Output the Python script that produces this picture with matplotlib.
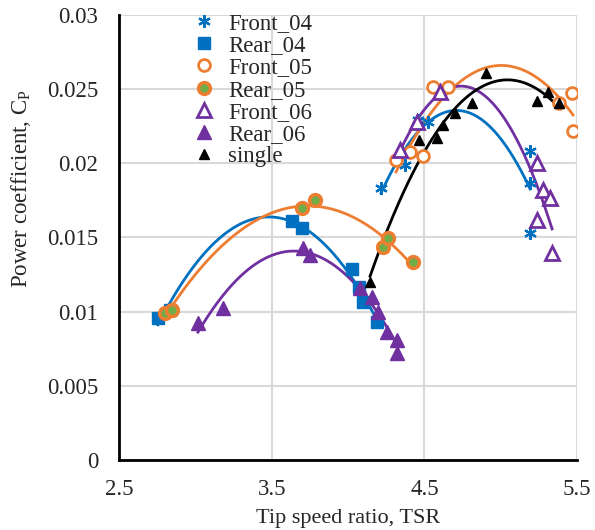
import numpy as np
import matplotlib
matplotlib.use("Agg")
import matplotlib.pyplot as plt

plt.rcParams['font.family'] = ['Liberation Serif', 'DejaVu Serif']

# data (TSR, Cp)
front_04_x = [4.216, 4.373, 4.458, 4.524, 5.192, 5.192, 5.192]
front_04_y = [0.01833, 0.01988, 0.02291, 0.02278, 0.02082, 0.01867, 0.0153]
rear_04_x = [2.755, 2.834, 3.633, 3.698, 4.026, 4.072, 4.098, 4.190]
rear_04_y = [0.00957, 0.0101, 0.0161, 0.01563, 0.01287, 0.01166, 0.01065, 0.0093]
front_05_x = [4.314, 4.406, 4.491, 4.556, 4.655, 5.381, 5.467, 5.473]
front_05_y = [0.0202, 0.02075, 0.02048, 0.02513, 0.02513, 0.02406, 0.02473, 0.02217]
rear_05_x = [2.801, 2.847, 3.698, 3.784, 4.229, 4.262, 4.425]
rear_05_y = [0.00991, 0.0101, 0.01698, 0.01752, 0.01435, 0.01496, 0.01334]
front_06_x = [4.340, 4.452, 4.602, 5.237, 5.277, 5.322, 5.237, 5.336]
front_06_y = [0.0209, 0.02278, 0.0248, 0.02001, 0.01819, 0.01766, 0.01617, 0.01395]
rear_06_x = [3.017, 3.181, 3.705, 3.751, 4.078, 4.157, 4.196, 4.255, 4.321, 4.321]
rear_06_y = [0.00923, 0.01024, 0.01429, 0.01381, 0.01159, 0.01098, 0.00997, 0.00863, 0.00809, 0.00721]
single_x = [4.144, 4.465, 4.583, 4.622, 4.700, 4.812, 4.903, 5.237, 5.309, 5.381]
single_y = [0.0120, 0.02156, 0.0217, 0.02257, 0.02338, 0.02406, 0.02608, 0.0242, 0.0248, 0.02406]

blue = '#0070C0'
orange = '#ED7D31'
purple = '#7030A0'
green = '#70AD47'
txt = '#262626'

fig = plt.figure(figsize=(5.95, 5.3), dpi=100)
ax = fig.add_axes([0.2, 0.132, 0.77, 0.8398])


def trend(x, y, color):
    # 2nd order polynomial trendline, like Excel
    c = np.polyfit(x, y, 2)
    xs = np.linspace(min(x), max(x), 200)
    ax.plot(xs, np.polyval(c, xs), color=color, lw=2.0, zorder=2)


for x, y, col in [(front_04_x, front_04_y, blue), (rear_04_x, rear_04_y, blue),
                  (front_05_x, front_05_y, orange), (rear_05_x, rear_05_y, orange),
                  (front_06_x, front_06_y, purple), (rear_06_x, rear_06_y, purple),
                  (single_x, single_y, 'black')]:
    trend(x, y, col)

ax.plot(front_04_x, front_04_y, ls='none', marker=(6, 2, 0), ms=9, mew=1.6,
        color=blue, label='Front_04', zorder=3)
ax.plot(rear_04_x, rear_04_y, ls='none', marker='s', ms=8.5, color=blue,
        label='Rear_04', zorder=3)
ax.plot(front_05_x, front_05_y, ls='none', marker='o', ms=8.5, mfc='white',
        mec=orange, mew=2, label='Front_05', zorder=3)
ax.plot(rear_05_x, rear_05_y, ls='none', marker='o', ms=8.5, mfc=green,
        mec=orange, mew=2.5, label='Rear_05', zorder=3)
ax.plot(front_06_x, front_06_y, ls='none', marker='^', ms=9.5, mfc='white',
        mec=purple, mew=2, label='Front_06', zorder=3)
ax.plot(rear_06_x, rear_06_y, ls='none', marker='^', ms=9.5, color=purple,
        label='Rear_06', zorder=3)
ax.plot(single_x, single_y, ls='none', marker='^', ms=7.5, color='black',
        label='single', zorder=4)

ax.set_xlim(2.5, 5.5)
ax.set_ylim(0, 0.03)
ax.set_xticks([2.5, 3.5, 4.5, 5.5])
ax.set_xticklabels(['2.5', '3.5', '4.5', '5.5'])
ax.set_yticks([0, 0.005, 0.01, 0.015, 0.02, 0.025, 0.03])
ax.set_yticklabels(['0', '0.005', '0.01', '0.015', '0.02', '0.025', '0.03'])
ax.grid(True, color='#D9D9D9', lw=1.5, zorder=0)
ax.set_axisbelow(True)
ax.tick_params(length=0, labelsize=16.5, colors=txt)
ax.tick_params(axis='y', pad=15)
ax.tick_params(axis='x', pad=14)
for s in ['top', 'right']:
    ax.spines[s].set_visible(False)
for s in ['left', 'bottom']:
    ax.spines[s].set_color('black')
    ax.spines[s].set_linewidth(2)

ax.set_xlabel('Tip speed ratio, TSR', fontsize=16, color=txt, labelpad=6)
ax.set_ylabel('Power coefficient, C$_\\mathregular{P}$', fontsize=16.5, color=txt)
ax.yaxis.set_label_coords(-0.188, 0.609)

ax.legend(loc='upper left', bbox_to_anchor=(0.131, 1.03), frameon=False,
          fontsize=16.5, labelspacing=0.05, handletextpad=0.45, handlelength=1.2,
          borderpad=0, labelcolor=txt)

fig.savefig('out.png', dpi=100)
